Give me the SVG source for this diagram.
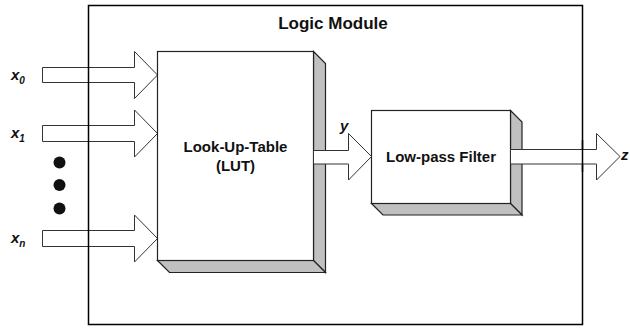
<svg xmlns="http://www.w3.org/2000/svg" width="630" height="328" viewBox="0 0 630 328">
<style>
.arrow{fill:#fff;stroke:#333;stroke-width:1}
.face{fill:#fff;stroke:#222;stroke-width:1.2}
.shade{fill:#c0c0c0;stroke:#222;stroke-width:1.2;stroke-linejoin:miter}
.lbl{font-family:"Liberation Sans",Arial,sans-serif;font-weight:bold;font-size:15px;fill:#111;text-anchor:middle}
.var{font-family:"Liberation Sans",Arial,sans-serif;font-weight:bold;font-style:italic;font-size:15px;fill:#111}
.sub{font-size:10px}
</style>
<rect width="630" height="328" fill="#fff"/>
<g id="connectors">
  <polygon class="arrow" points="42.5,67.5 134.5,67.5 134.5,51.5 157.5,75 134.5,98.5 134.5,82.5 42.5,82.5"/>
  <polygon class="arrow" points="42.5,125.5 134.5,125.5 134.5,110 157.5,133.5 134.5,157 134.5,141.5 42.5,141.5"/>
  <polygon class="arrow" points="42.5,230.5 134.5,230.5 134.5,215 157.5,238.5 134.5,262 134.5,246.5 42.5,246.5"/>
</g>
<g id="module">
  <rect x="88.5" y="5.5" width="494" height="319" fill="none" stroke="#000" stroke-width="1.5"/>
  <text class="lbl" x="333" y="29" style="font-size:17px">Logic Module</text>
</g>
<g id="lut">
  <polygon class="shade" points="313.5,51.5 325.5,63.5 325.5,272.5 313.5,260.5"/>
  <polygon class="shade" points="157.5,260.5 313.5,260.5 325.5,272.5 169.5,272.5"/>
  <rect class="face" x="157.5" y="51.5" width="156" height="209"/>
  <text class="lbl" x="235.5" y="152">Look-Up-Table</text>
  <text class="lbl" x="235.5" y="171">(LUT)</text>
</g>
<g id="lpf">
  <polygon class="shade" points="510.5,110.5 522,122 522,215 510.5,203.5"/>
  <polygon class="shade" points="371.5,203.5 510.5,203.5 522,215 383,215"/>
  <rect class="face" x="371.5" y="110.5" width="139" height="93"/>
  <text class="lbl" x="441" y="162">Low-pass Filter</text>
</g>
<g id="connectors2">
  <polygon class="arrow" points="313.5,150.5 348.5,150.5 348.5,133.5 371.5,156.5 348.5,180 348.5,164 313.5,164"/>
  <polygon class="arrow" points="510.5,149.5 596.5,149.5 596.5,133.5 620,156.5 596.5,180 596.5,164 510.5,164"/>
  <line x1="582.5" y1="140" x2="582.5" y2="172" stroke="#000" stroke-width="1.5"/>
</g>
<g id="labels">
  <text class="var" x="11" y="80">x<tspan class="sub" dy="4">0</tspan></text>
  <text class="var" x="11" y="138">x<tspan class="sub" dy="4">1</tspan></text>
  <text class="var" x="11" y="243">x<tspan class="sub" dy="4">n</tspan></text>
  <text class="var" x="340" y="131">y</text>
  <text class="var" x="621" y="160">z</text>
</g>
<g id="dots" fill="#111">
  <circle cx="59.5" cy="162.5" r="6"/>
  <circle cx="59.5" cy="185" r="6"/>
  <circle cx="59.5" cy="208.5" r="6"/>
</g>
</svg>
